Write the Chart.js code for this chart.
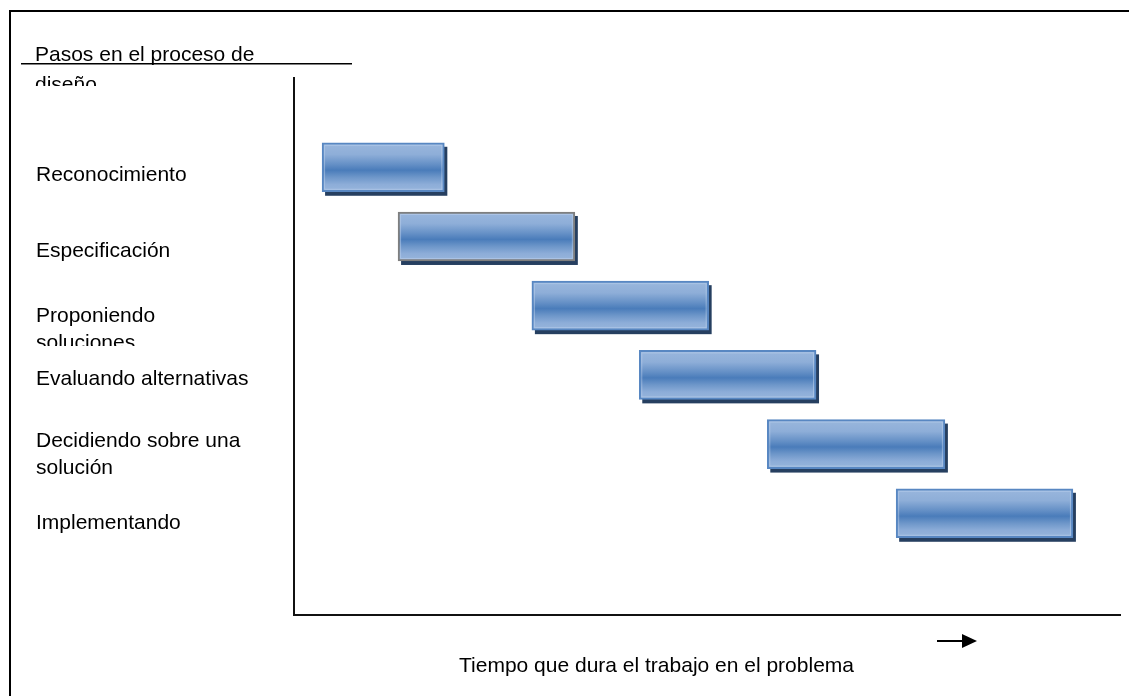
<!DOCTYPE html>
<html lang="es">
<head>
<meta charset="utf-8">
<title>Pasos en el proceso de diseño</title>
<script src="https://cdn.jsdelivr.net/npm/chart.js@4.4.1/dist/chart.umd.min.js"></script>
<style>
  html, body { margin: 0; padding: 0; background: #fff; }
  #wrap { position: relative; width: 1129px; height: 696px; }
  canvas { display: block; }
</style>
</head>
<body>
<div id="wrap"><canvas id="gantt" width="1129" height="696"></canvas></div>
<script>
// ---- data ----------------------------------------------------------------
const stepLabels = [
  ['Reconocimiento'],
  ['Especificación'],
  ['Proponiendo', 'soluciones'],
  ['Evaluando alternativas'],
  ['Decidiendo sobre una', 'solución'],
  ['Implementando']
];
// start / end of each step on the (unitless) time axis
const startTime = [0.34, 1.26, 2.88, 4.18, 5.73, 7.29];
const endTime   = [1.82, 3.40, 5.02, 6.32, 7.88, 9.43];

const yTitleLines = ['Pasos en el proceso de', 'diseño'];
const xTitle = 'Tiempo que dura el trabajo en el problema';

// ---- layout & style ----------------------------------------------------------
const FONT = "'Liberation Sans', Arial, Helvetica, sans-serif";
const TIME_RANGE = { min: 0, max: 10 };
const STEP_RANGE = { min: -1.29, max: 6.47 };
const BAR_THICKNESS = 49;
// vertical nudge of each step label below its bar (fraction of a row)
const labelNudge = [0.116, 0.218, 0.347, 0.056, 0.152, 0.145];
const barEdge = ['#5887c2', '#7f7f7f', '#5887c2', '#5887c2', '#5887c2', '#5887c2'];

function barGradient(c) {
  const chart = c.chart;
  if (!chart.chartArea || !chart.scales.y) return '#4f81bd';
  const idx = c.parsed ? c.parsed.y : c.dataIndex;
  const yc = chart.scales.y.getPixelForValue(idx);
  const half = BAR_THICKNESS / 2;
  const g = chart.ctx.createLinearGradient(0, yc - half, 0, yc + half);
  g.addColorStop(0.00, '#9ab7dd');
  g.addColorStop(0.24, '#8eaed8');
  g.addColorStop(0.44, '#6590c6');
  g.addColorStop(0.56, '#4a7cba');
  g.addColorStop(0.70, '#6d96c9');
  g.addColorStop(0.85, '#8dadd8');
  g.addColorStop(1.00, '#98b6dc');
  return g;
}

function barRect(bar) {
  const p = bar.getProps(['x', 'y', 'base', 'height'], true);
  return {
    left: Math.min(p.x, p.base),
    top: p.y - p.height / 2,
    w: Math.abs(p.x - p.base),
    h: p.height
  };
}

// drop shadow behind the bars and a thin inner highlight on top of them
const barDecor = {
  id: 'barDecor',
  beforeDatasetsDraw(chart) {
    const ctx = chart.ctx;
    ctx.save();
    ctx.fillStyle = '#263f60';
    chart.getDatasetMeta(0).data.forEach(bar => {
      const r = barRect(bar);
      ctx.fillRect(r.left + 3, r.top + 4, r.w, r.h);
    });
    ctx.restore();
  },
  afterDatasetsDraw(chart) {
    const ctx = chart.ctx;
    ctx.save();
    ctx.strokeStyle = 'rgba(190, 210, 236, 0.55)';
    ctx.lineWidth = 1;
    chart.getDatasetMeta(0).data.forEach(bar => {
      const r = barRect(bar);
      ctx.strokeRect(r.left + 2.5, r.top + 2.5, r.w - 5, r.h - 5);
    });
    ctx.restore();
  }
};

// frame, axis captions and the time arrow
const annotations = {
  id: 'annotations',
  beforeDraw(chart) {
    const ctx = chart.ctx;
    ctx.save();
    ctx.strokeStyle = '#000';
    ctx.lineWidth = 2;
    ctx.beginPath();
    ctx.moveTo(10, chart.height);
    ctx.lineTo(10, 11);
    ctx.lineTo(chart.width, 11);
    ctx.stroke();
    ctx.restore();
  },
  afterDraw(chart) {
    const ctx = chart.ctx;
    ctx.save();
    ctx.font = '21px ' + FONT;
    ctx.fillStyle = '#000';
    ctx.textBaseline = 'alphabetic';

    // step-axis caption (text box cut at its lower edge)
    ctx.textAlign = 'left';
    ctx.fillText(yTitleLines[0], 35, 61);
    ctx.save();
    ctx.beginPath();
    ctx.rect(0, 0, chart.width, 86);
    ctx.clip();
    ctx.fillText(yTitleLines[1], 35, 91);
    ctx.restore();
    ctx.strokeStyle = '#000';
    ctx.lineWidth = 1.5;
    ctx.beginPath();
    ctx.moveTo(21, 63.75);
    ctx.lineTo(352, 63.75);
    ctx.stroke();

    // the second line of the third step label sits in a clipped text box
    ctx.fillStyle = '#fff';
    ctx.fillRect(25, 346, 240, 13);

    // time-axis caption
    ctx.fillStyle = '#000';
    ctx.textAlign = 'center';
    ctx.fillText(xTitle, 656.5, 672);

    // arrow
    ctx.lineWidth = 2;
    ctx.beginPath();
    ctx.moveTo(937, 641);
    ctx.lineTo(964, 641);
    ctx.stroke();
    ctx.beginPath();
    ctx.moveTo(962, 634);
    ctx.lineTo(977, 641);
    ctx.lineTo(962, 648);
    ctx.closePath();
    ctx.fill();
    ctx.restore();
  }
};

new Chart(document.getElementById('gantt'), {
  type: 'bar',
  data: {
    datasets: [{
      data: stepLabels.map((_, i) => ({ y: i, x: [startTime[i], endTime[i]] })),
      backgroundColor: barGradient,
      borderColor: c => barEdge[c.dataIndex],
      borderWidth: 2,
      borderSkipped: false,
      barThickness: BAR_THICKNESS
    }]
  },
  options: {
    indexAxis: 'y',
    responsive: false,
    animation: false,
    events: [],
    layout: { padding: { left: 36, top: 78, right: 9, bottom: 81 } },
    plugins: {
      legend: { display: false },
      tooltip: { enabled: false },
      title: { display: false }
    },
    scales: {
      x: {
        type: 'linear',
        position: 'bottom',
        bounds: 'data',
        offset: false,
        min: TIME_RANGE.min,
        max: TIME_RANGE.max,
        grid: { display: false, drawTicks: false },
        ticks: { display: false },
        border: { display: true, color: '#111', width: 2 },
        afterFit(s) { s.height = 0; }
      },
      y: {
        type: 'linear',
        position: 'left',
        reverse: true,
        bounds: 'data',
        offset: false,
        min: STEP_RANGE.min,
        max: STEP_RANGE.max,
        grid: { display: false, drawTicks: false, offset: false },
        border: { display: true, color: '#111', width: 2 },
        ticks: {
          display: true,
          autoSkip: false,
          color: '#000',
          crossAlign: 'far',
          padding: 0,
          font: { family: FONT, size: 21, lineHeight: 1.3 },
          callback: (v, i) => stepLabels[i]
        },
        afterBuildTicks(s) {
          s.min = STEP_RANGE.min;
          s.max = STEP_RANGE.max;
          s.ticks = stepLabels.map((_, i) => ({ value: i + labelNudge[i] }));
        },
        afterFit(s) { s.width = 258; }
      }
    }
  },
  plugins: [barDecor, annotations]
});
</script>
</body>
</html>
